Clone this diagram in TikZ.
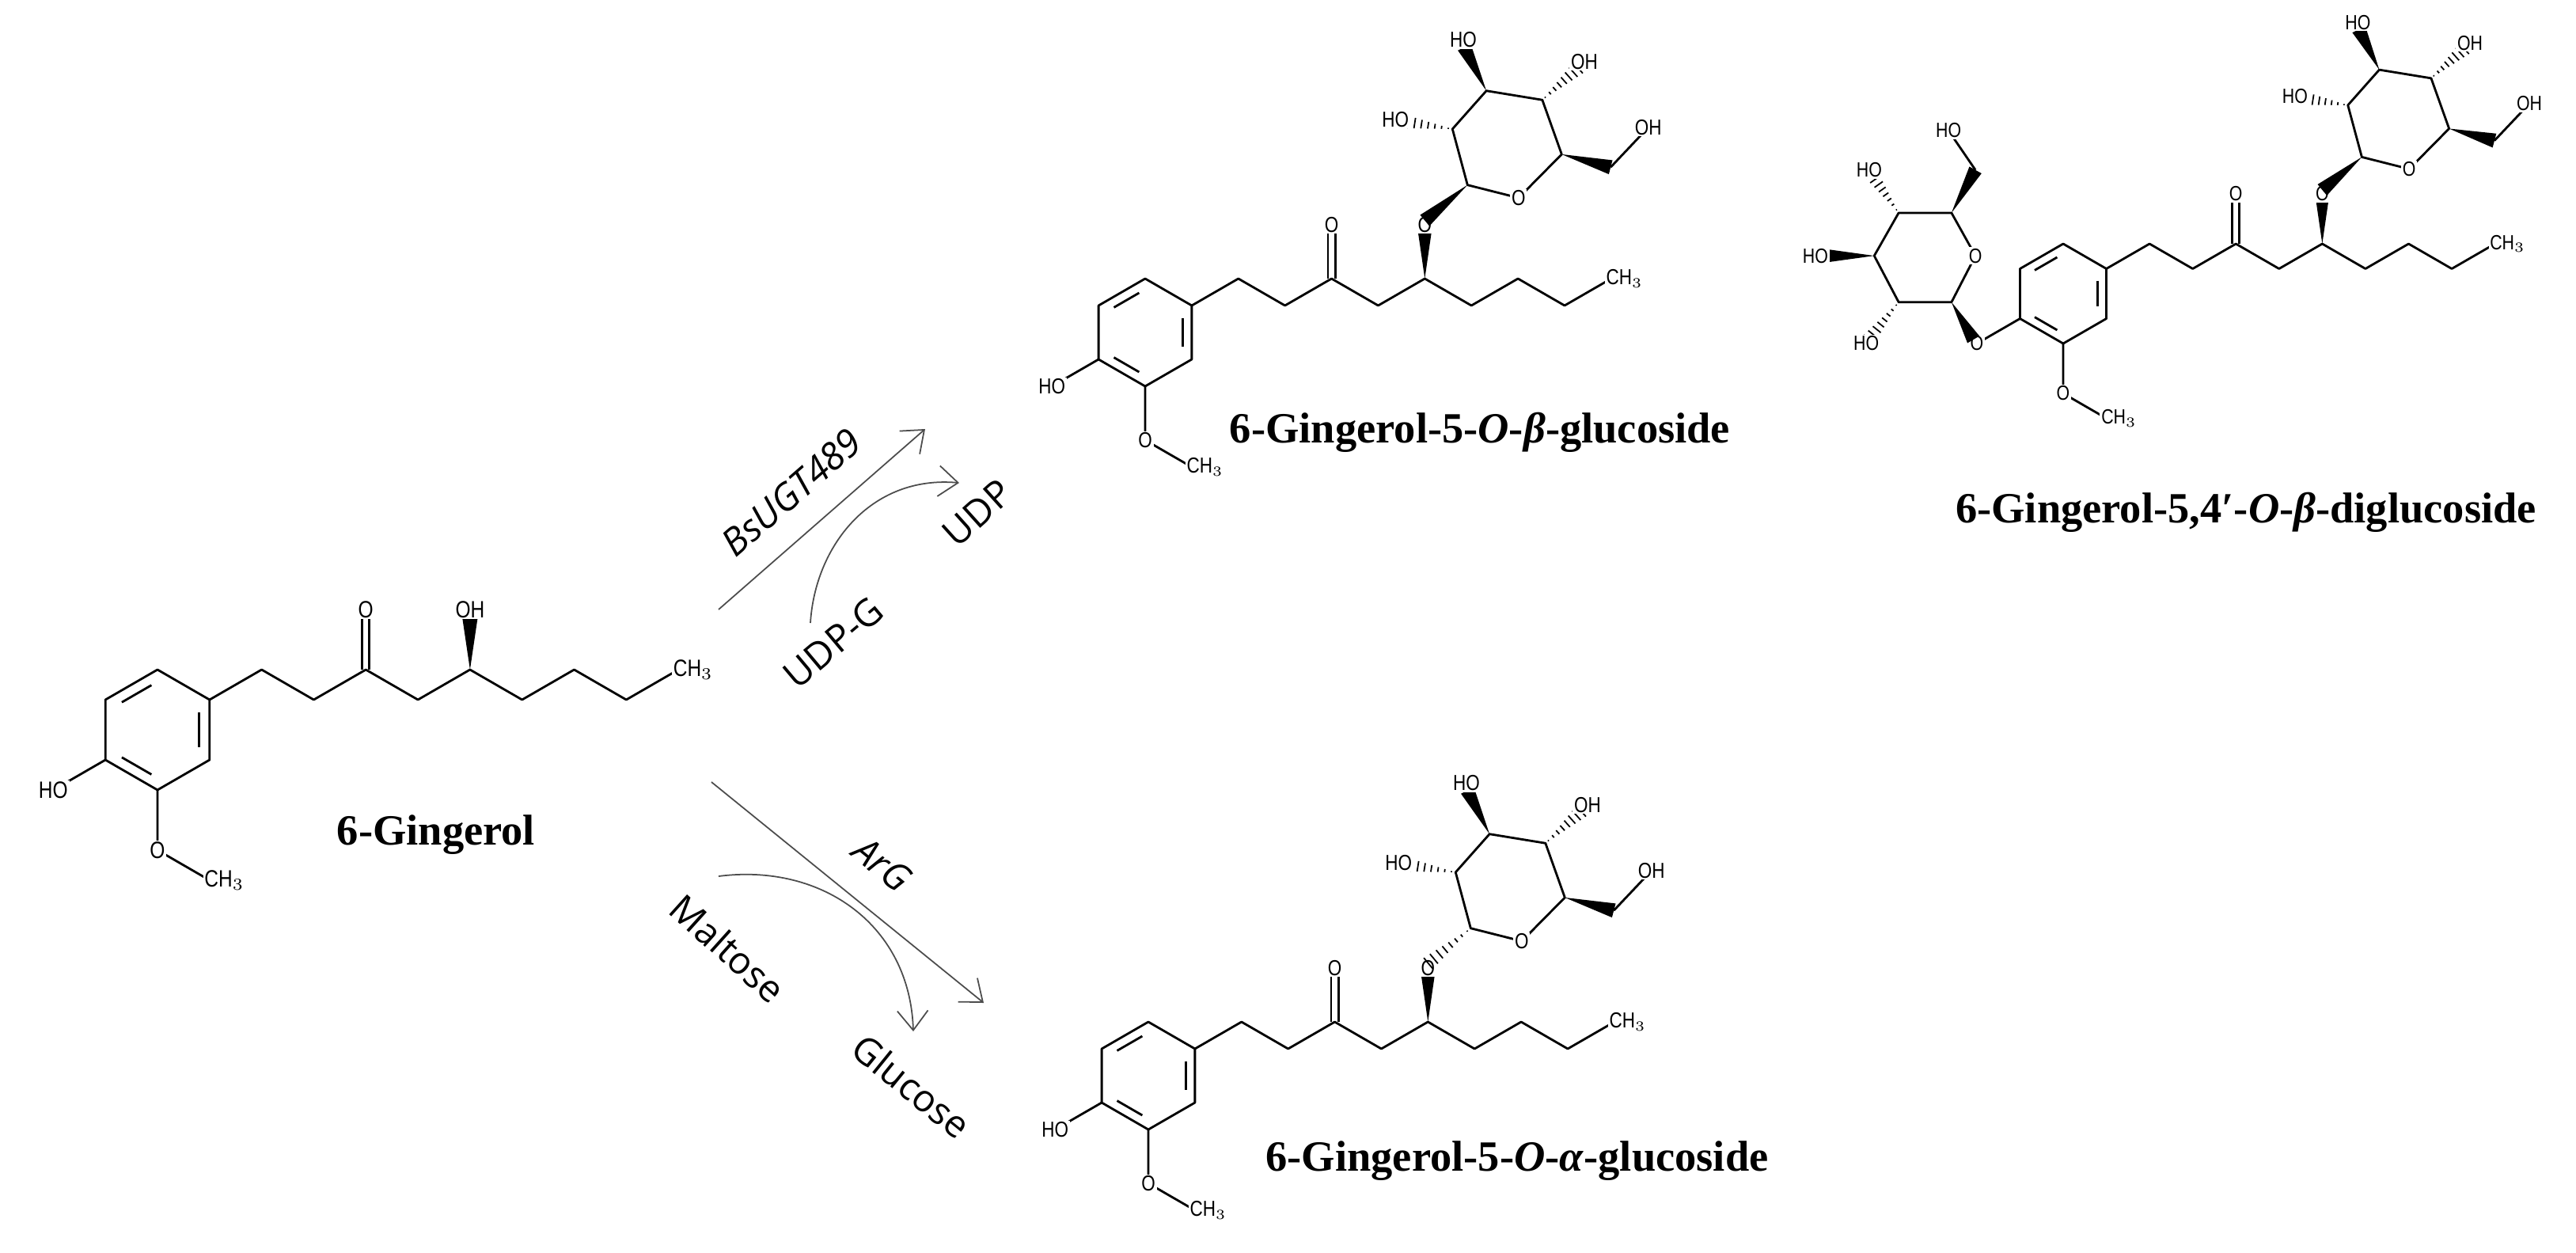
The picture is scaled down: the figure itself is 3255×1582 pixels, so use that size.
\documentclass[tikz,border=0pt]{standalone}
\usepackage{fontspec}
\setmainfont{Liberation Serif}
\newfontfamily\atomf[FakeStretch=0.82]{Liberation Sans}
\newfontfamily\lblf{Open Sans}
\usetikzlibrary{calc,arrows.meta}
\def\afs{8}
\tikzset{
  bond/.style={line width=0.8pt, line join=round},
  atom/.style={fill=white, inner sep=0.5pt, font={\atomf\fontsize{\afs}{\afs}\selectfont}},
  rxn/.style={draw=gray!60!black, line width=0.5pt, -{Straight Barb[length=7pt,width=11pt]}},
  rlbl/.style={font={\lblf\fontsize{13.5}{14}\selectfont}},
  title/.style={font={\bfseries\fontsize{15.5}{18}\selectfont}}
}
% wedge: narrow at #1, wide at #2, half width #3
\newcommand\wbond[3]{\fill ($#2!#3!90:#1$) -- #1 -- ($#2!#3!-90:#1$) -- cycle;}
% hashed bond: narrow at #1, wide at #2
\newcommand\hbond[3]{\foreach \t in {0.08,0.21,0.34,0.47,0.60,0.73,0.86,0.99}{%
  \path ($#1!\t!#2$) coordinate (hp);
  \draw[line width=0.5pt] ($(hp)!\t*#3!90:#2$) -- ($(hp)!\t*#3!-90:#2$);}}
% gingerol skeleton: #1 wedge width, #2 phenol label, #3 label at C5 oxygen
\newcommand\gskel[3]{%
  \draw[bond] (0,-1)--(0.866,-0.5)--(0.866,0.5)--(0,1)--(-0.866,0.5)--(-0.866,-0.5)--cycle;
  \draw[bond, shorten <=2.5pt, shorten >=2.5pt] (0,-0.8)--(-0.693,-0.4);
  \draw[bond, shorten <=2.5pt, shorten >=2.5pt] (0.693,-0.4)--(0.693,0.4);
  \draw[bond, shorten <=2.5pt, shorten >=2.5pt] (-0.693,0.4)--(0,0.8);
  \draw[bond] (0.866,-0.5)--(1.732,-1)--(2.598,-0.5)--(3.464,-1)--(4.330,-0.5)--(5.196,-1)
     --(6.062,-0.5)--(6.928,-1)--(7.794,-0.5)--(8.660,-1);
  \draw[bond] ([xshift=-1.3pt]3.464,-1)--([xshift=-1.3pt]3.464,-2);
  \draw[bond] ([xshift=1.3pt]3.464,-1)--([xshift=1.3pt]3.464,-2);
  \draw[bond] (-0.866,0.5)--(-1.732,1);
  \draw[bond] (0,1)--(0,2)--(0.866,2.5);
  \wbond{(5.196,-1)}{(5.196,-2)}{#1}
  \node[atom] (co) at (3.464,-2) {O};
  \node[atom] (po) at (-1.732,1) {#2};
  \node[atom] (mo) at (0,2) {O};
  \node[atom, anchor=west, xshift=-2.5pt] (mc) at (0.866,2.5) {CH$_3$};
  \node[atom, anchor=west, xshift=-2.5pt] (tc) at (8.660,-1) {CH$_3$};
  \node[atom] (so) at (5.196,-2) {#3};
}
% sugar on C5 oxygen; #1 = 1 beta (wedge), 0 alpha (hash)
\newcommand\sugar[1]{%
  \ifnum#1=1 \wbond{(5.99,-2.74)}{(5.196,-2.08)}{2.6pt}\else \hbond{(5.99,-2.74)}{(5.196,-2.08)}{2.6pt}\fi
  \draw[bond] (5.99,-2.74)--(6.94,-2.5)--(7.74,-3.31)--(7.38,-4.32)--(6.34,-4.49)--(5.71,-3.78)--cycle;
  \hbond{(5.71,-3.78)}{(4.75,-3.93)}{2.6pt}
  \wbond{(6.34,-4.49)}{(5.93,-5.30)}{2.6pt}
  \hbond{(7.38,-4.32)}{(8.05,-4.92)}{2.6pt}
  \wbond{(7.74,-3.31)}{(8.65,-3.07)}{2.6pt}
  \draw[bond] (8.65,-3.07)--(9.35,-3.81);
  \node[atom] (ro) at (6.94,-2.5) {O};
  \node[atom] (h2) at (4.65,-3.96) {HO};
  \node[atom] (h3) at (5.91,-5.44) {HO};
  \node[atom] (h4) at (8.16,-5.03) {OH};
  \node[atom] (h6) at (9.35,-3.81) {OH};
}
\begin{document}
\begin{tikzpicture}[x=0.1mm, y=-0.1mm]
\useasboundingbox (0,0) rectangle (3255,1582);
% 6-Gingerol
\begin{scope}[shift={(199,922)}, x=7.6mm, y=-7.6mm]
  \def\afs{8.5}
  \gskel{3.2pt}{HO}{OH}
\end{scope}
\node[title] (t0) at (551,1055) {6-Gingerol};
% beta glucoside
\begin{scope}[shift={(1447,420)}, x=6.8mm, y=-6.8mm]
  \def\afs{7.8}
  \gskel{2.8pt}{HO}{O}
  \sugar{1}
\end{scope}
\node[title] (t1) at (1870,546) {6-Gingerol-5-\textit{O}-\textit{β}-glucoside};
% alpha glucoside
\begin{scope}[shift={(1451,1359)}, x=6.8mm, y=-6.8mm]
  \def\afs{7.8}
  \gskel{2.8pt}{HO}{O}
  \sugar{0}
\end{scope}
\node[title] (t2) at (1917,1467) {6-Gingerol-5-\textit{O}-\textit{α}-glucoside};
% diglucoside
\begin{scope}[shift={(2607,371)}, x=6.3mm, y=-6.3mm]
  \def\afs{7.4}
  \gskel{2.6pt}{O}{O}
  \sugar{1}
  \wbond{(-2.24,0.17)}{(-1.80,0.92)}{2.5pt}
  \draw[bond] (-2.24,0.17)--(-1.76,-0.76)--(-2.24,-1.62)--(-3.30,-1.62)--(-3.79,-0.76)--(-3.30,0.17)--cycle;
  \wbond{(-2.24,-1.62)}{(-1.76,-2.48)}{2.5pt}
  \draw[bond] (-1.76,-2.48)--(-2.30,-3.27);
  \hbond{(-3.30,-1.62)}{(-3.85,-2.40)}{2.5pt}
  \wbond{(-3.79,-0.76)}{(-4.80,-0.76)}{2.5pt}
  \hbond{(-3.30,0.17)}{(-3.90,0.92)}{2.5pt}
  \node[atom] (lro) at (-1.76,-0.76) {O};
  \node[atom] (lh6) at (-2.30,-3.27) {HO};
  \node[atom] (lh4) at (-3.89,-2.48) {HO};
  \node[atom] (lh3) at (-4.97,-0.76) {HO};
  \node[atom] (lh2) at (-3.95,1.0) {HO};
\end{scope}
\node[title] (t3) at (2838,647) {6-Gingerol-5,4′-\textit{O}-\textit{β}-diglucoside};
% reaction arrows
\coordinate (u1) at (908,770); \coordinate (u2) at (1169,542);
\coordinate (g1) at (1024,787); \coordinate (g2) at (1212,610);
\coordinate (d1) at (899,988); \coordinate (d2) at (1243,1267);
\coordinate (m1) at (908,1107); \coordinate (m2) at (1154,1303);
\draw[rxn] (u1) -- (u2);
\draw[rxn] (g1) .. controls (1030,690) and (1100,600) .. (g2);
\draw[rxn] (d1) -- (d2);
\draw[rxn] (m1) .. controls (1040,1090) and (1150,1170) .. (m2);
\node[rlbl, rotate=41] (lb1) at (1000,622) {\textit{BsUGT489}};
\node[rlbl, rotate=42] (lb2) at (1235,648) {UDP};
\node[rlbl, rotate=40] (lb3) at (1053,812) {UDP-G};
\node[rlbl, rotate=-39] (lb4) at (1115,1092) {\textit{ArG}};
\node[rlbl, rotate=-42] (lb5) at (920,1198) {Maltose};
\node[rlbl, rotate=-39] (lb6) at (1152,1372) {Glucose};
\end{tikzpicture}
\end{document}
